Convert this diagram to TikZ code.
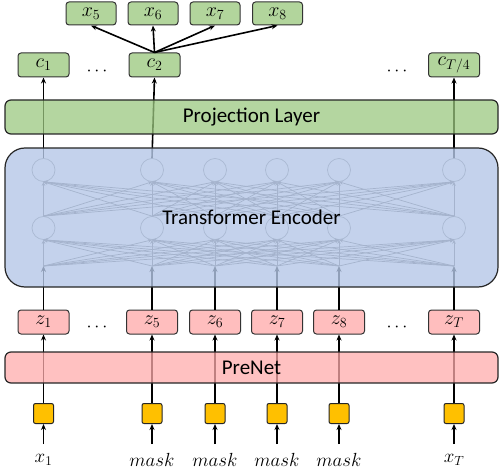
\documentclass[tikz,border=0pt]{standalone}
\usepackage{fix-cm}
\usepackage{fontspec}
\setmainfont{Carlito}
\usetikzlibrary{arrows.meta}
\definecolor{grnF}{RGB}{178,213,156}
\definecolor{grnL}{RGB}{155,200,128}
\definecolor{pnkF}{RGB}{255,190,190}
\definecolor{pnkL}{RGB}{255,172,172}
\definecolor{bluL}{RGB}{181,199,231}
\definecolor{ylw}{RGB}{255,192,0}
\begin{document}
\begin{tikzpicture}[x=1pt,y=-1pt,
  arr/.style={-{Stealth[length=6pt,width=5pt]}, line width=1.6pt, black},
  meshline/.style={-{Stealth[length=4pt,width=3.5pt]}, line width=0.7pt, black!60},
  small/.style={draw=black!80, line width=1pt, rounded corners=3pt, minimum width=51pt, minimum height=24pt, inner sep=0pt, font=\fontsize{20}{22}\selectfont},
  gsmall/.style={small, fill=grnF},
  psmall/.style={small, fill=pnkF},
  ybox/.style={draw=black!85, line width=1pt, rounded corners=2pt, fill=ylw, minimum size=20pt, inner sep=0pt},
  neuron/.style={circle, draw=black!50, line width=0.7pt, minimum size=23pt, inner sep=0pt},
  layer/.style={draw=black!85, line width=1.2pt, inner sep=0pt, font=\fontsize{21}{24}\selectfont, fill opacity=0.75, text opacity=1},
  lbl/.style={font=\fontsize{19}{21}\selectfont, inner sep=1pt},
  dotsn/.style={font=\fontsize{18}{20}\selectfont, inner sep=0pt}
]
\useasboundingbox (0,0) rectangle (500,470);

% top outputs
\node[gsmall, minimum width=50pt, minimum height=23pt] (x5) at (91,13.5) {$x_5$};
\node[gsmall, minimum width=50pt, minimum height=23pt] (x6) at (153,13.5) {$x_6$};
\node[gsmall, minimum width=50pt, minimum height=23pt] (x7) at (215,13.5) {$x_7$};
\node[gsmall, minimum width=50pt, minimum height=23pt] (x8) at (277.5,13.5) {$x_8$};

% c boxes
\node[gsmall] (c1) at (43.5,65) {$c_1$};
\node[gsmall] (c2) at (154.5,65) {$c_2$};
\node[gsmall] (cT) at (454,65) {$c_{T/4}$};
\node[dotsn] (dc1) at (97,72) {$\cdots$};
\node[dotsn] (dc2) at (397,72) {$\cdots$};

\foreach \t in {x5,x6,x7,x8} \draw[arr] (c2.north) -- (\t.south);

% z boxes
\node[psmall] (z1) at (43.5,322) {$z_1$};
\node[psmall] (z2) at (152,322) {$z_5$};
\node[psmall] (z3) at (215,322) {$z_6$};
\node[psmall] (z4) at (277,322) {$z_7$};
\node[psmall] (z5) at (339,322) {$z_8$};
\node[psmall] (z6) at (454,322) {$z_T$};
\node[dotsn] (dz1) at (97,327) {$\cdots$};
\node[dotsn] (dz2) at (397,327) {$\cdots$};

% inputs
\foreach \i/\x/\t in {1/43.5/x_1, 2/152/mask, 3/215/mask, 4/277/mask, 5/339/mask, 6/454/x_T}{
  \node[ybox] (y\i) at (\x,413.5) {};
  \coordinate (in\i) at (\x,444);
  \node[lbl] (l\i) at (\x,460) {$\t$};
  \draw[arr] (in\i) -- (y\i.south);
  \draw[arr] (y\i.north) -- (z\i.south);
  \coordinate (s\i) at (\x,266);
  \node[neuron] (b\i) at (\x,228) {};
  \node[neuron] (t\i) at (\x,170) {};
  \draw[arr] (z\i.north) -- (s\i);
}
\foreach \i in {1,...,6}{
  \foreach \j in {1,...,6}{
    \draw[meshline] (s\i) -- (b\j.south);
    \draw[meshline] (b\i.north) -- (t\j.south);
  }
}
\draw[arr] (t1.north) -- (c1.south);
\draw[arr] (t2.north) -- (c2.south);
\draw[arr] (t6.north) -- (cT.south);

% layers
\node[layer, fill=pnkL, rounded corners=6pt, minimum width=493pt, minimum height=31pt] (prenet) at (251.5,367.5) {PreNet};
\node[layer, fill=bluL, fill opacity=0.8, rounded corners=20pt, minimum width=493pt, minimum height=139pt] (enc) at (251.5,217.5) {Transformer Encoder};
\node[layer, fill=grnL, rounded corners=6pt, minimum width=493pt, minimum height=34pt] (proj) at (251.5,117) {Projection Layer};
\end{tikzpicture}
\end{document}
